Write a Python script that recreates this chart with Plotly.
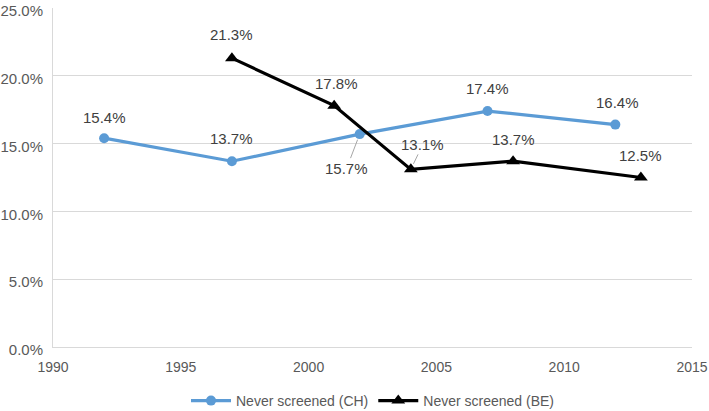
import plotly.graph_objects as go

ch_years = [1992, 1997, 2002, 2007, 2012]
ch_values = [15.4, 13.7, 15.7, 17.4, 16.4]
be_years = [1997, 2001, 2004, 2008, 2013]
be_values = [21.3, 17.8, 13.1, 13.7, 12.5]
y_ticks = [0, 5, 10, 15, 20, 25]
x_ticks = [1990, 1995, 2000, 2005, 2010, 2015]

# label offsets in pixels (ax, ay) and whether a leader line is drawn
ch_offsets = [(0, -21, False), (0, -23, False), (-13, 34, True), (0, -23, False), (2, -22, False)]
be_offsets = [(0, -24, False), (2, -22, False), (12, -25, True), (0, -22, False), (0, -22, False)]

FONT = "Liberation Sans, Arial, sans-serif"

fig = go.Figure()
fig.add_trace(go.Scatter(
    x=ch_years, y=ch_values, mode="lines+markers", name="Never screened (CH)",
    line=dict(color="#5B9BD5", width=3.2),
    marker=dict(symbol="circle", size=10, color="#5B9BD5"),
))
fig.add_trace(go.Scatter(
    x=be_years, y=be_values, mode="lines+markers", name="Never screened (BE)",
    line=dict(color="#000000", width=3.2),
    marker=dict(symbol="triangle-up", size=12, color="#000000"),
))

annotations = []
for xs, ys, offs in [(ch_years, ch_values, ch_offsets), (be_years, be_values, be_offsets)]:
    for x, y, (ax, ay, arrow) in zip(xs, ys, offs):
        annotations.append(dict(
            x=x, y=y, xref="x", yref="y", text=f"{y:.1f}%",
            showarrow=True, ax=ax, ay=ay,
            arrowhead=0, arrowwidth=1,
            arrowcolor="#A6A6A6" if arrow else "rgba(0,0,0,0)",
            standoff=6 if arrow else 0,
            font=dict(family=FONT, size=15, color="#404040"),
        ))

fig.update_layout(
    width=709, height=411,
    margin=dict(l=53, r=17, t=8, b=64, autoexpand=False),
    paper_bgcolor="white", plot_bgcolor="white",
    font=dict(family=FONT, size=15, color="#595959"),
    showlegend=True,
    legend=dict(orientation="h", x=0.5, xanchor="center",
                yref="container", y=10 / 411, yanchor="middle",
                itemwidth=40, font=dict(family=FONT, size=14, color="#595959")),
    annotations=annotations,
    xaxis=dict(range=[1990, 2015], tickvals=x_ticks, showgrid=False,
               showline=True, linecolor="#D9D9D9", linewidth=1, zeroline=False,
               ticks="", ticklabeloverflow="allow", automargin=False,
               ticklabelstandoff=7,
               tickfont=dict(family=FONT, size=14, color="#595959")),
    yaxis=dict(range=[0, 25], tickvals=y_ticks, ticktext=[f"{v:.1f}%" for v in y_ticks],
               showgrid=True, gridcolor="#D9D9D9", gridwidth=1,
               showline=True, linecolor="#D9D9D9", linewidth=1, zeroline=False,
               ticks="", ticklabeloverflow="allow", automargin=False,
               ticklabelstandoff=6, ticklabelshift=3,
               tickfont=dict(family=FONT, size=15, color="#595959")),
)

fig.write_html("out.html", config={"displayModeBar": False},
               post_script="document.body.style.margin='0';document.body.style.overflow='hidden';")
